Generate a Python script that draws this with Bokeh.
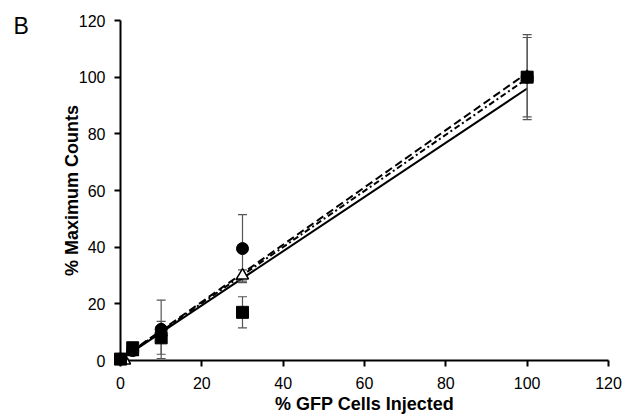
from bokeh.plotting import figure
from bokeh.models import Range1d, Whisker, ColumnDataSource, FixedTicker, TeeHead
from bokeh.embed import file_html
from bokeh.resources import INLINE

# ---- data ----
circ_x = [0, 3, 10, 30, 100]
circ_y = [0.5, 3.5, 11, 39.5, 100]
circ_err = [0.5, 0.5, 10.3, 12, 14]

sq_x = [0, 3, 10, 30, 100]
sq_y = [0.5, 4.5, 8, 17, 100]
sq_err = [0.5, 0.5, 5.8, 5.5, 15]

tri_x = [1, 3, 10, 30, 100]
tri_y = [0, 3, 10, 30, 100]
tri_err = [0.5, 0.5, 1, 2, 1]

fit_x = [0, 100]
fit_solid = [0.3, 96]      # squares
fit_dash = [0.5, 101.5]    # circles
fit_dashdot = [0.4, 99.5]  # triangles

x_ticks = [0, 20, 40, 60, 80, 100, 120]
y_ticks = [0, 20, 40, 60, 80, 100, 120]

FONT = "Liberation Sans"

p = figure(width=632, height=418, output_backend="svg", toolbar_location=None,
           x_range=Range1d(0, 120), y_range=Range1d(0, 120),
           min_border_left=120, min_border_right=24, min_border_top=20, min_border_bottom=58)
p.outline_line_color = None
p.xgrid.visible = False
p.ygrid.visible = False

# panel letter as a left-aligned title pulled down into the margin
p.title.text = "B"
p.title.text_font = FONT
p.title.text_font_size = "23px"
p.title.text_font_style = "normal"
p.title.text_color = "black"
p.title.align = "left"
p.title.vertical_align = "bottom"
p.title.standoff = -37
p.title.offset = -107

for ax in (p.xaxis[0], p.yaxis[0]):
    ax.axis_line_width = 2
    ax.axis_line_color = "black"
    ax.major_tick_line_width = 2
    ax.major_tick_out = 6
    ax.major_tick_in = 0
    ax.minor_tick_line_color = None
    ax.major_label_text_font = FONT
    ax.major_label_text_font_size = "16px"
    ax.major_label_text_color = "black"
    ax.axis_label_text_font = FONT
    ax.axis_label_text_font_style = "bold"
    ax.axis_label_text_font_size = "18px"
    ax.axis_label_text_color = "black"

p.xaxis.ticker = FixedTicker(ticks=x_ticks)
p.yaxis.ticker = FixedTicker(ticks=y_ticks)
p.xaxis.axis_label = "% GFP Cells Injected"
p.yaxis.axis_label = "% Maximum Counts"
p.xaxis.major_label_standoff = 10
p.yaxis.major_label_standoff = 9
p.xaxis.axis_label_standoff = 2
p.yaxis.axis_label_standoff = -6

# regression lines
p.line(fit_x, fit_solid, line_color="black", line_width=2)
p.line(fit_x, fit_dash, line_color="black", line_width=2, line_dash="8 4")
p.line(fit_x, fit_dashdot, line_color="black", line_width=2, line_dash="6 3 2 3")

# error bars
def add_err(xs, ys, es):
    src = ColumnDataSource(dict(x=xs, lo=[y - e for y, e in zip(ys, es)], hi=[y + e for y, e in zip(ys, es)]))
    w = Whisker(source=src, base="x", lower="lo", upper="hi", line_color="#555555", line_width=1.2,
                upper_head=TeeHead(size=9, line_color="#555555", line_width=1.2),
                lower_head=TeeHead(size=9, line_color="#555555", line_width=1.2),
                level="annotation")
    p.add_layout(w)

add_err(circ_x, circ_y, circ_err)
add_err(sq_x, sq_y, sq_err)
add_err(tri_x, tri_y, tri_err)

p.scatter(tri_x, tri_y, marker="triangle", size=12, fill_color="white", line_color="black",
          line_width=1.5, level="overlay")
p.scatter(circ_x, circ_y, marker="circle", size=12, fill_color="black", line_color="black", level="overlay")
p.scatter(sq_x, sq_y, marker="square", size=12, fill_color="black", line_color="black", level="overlay")

open("out.html", "w").write(file_html(p, INLINE))
